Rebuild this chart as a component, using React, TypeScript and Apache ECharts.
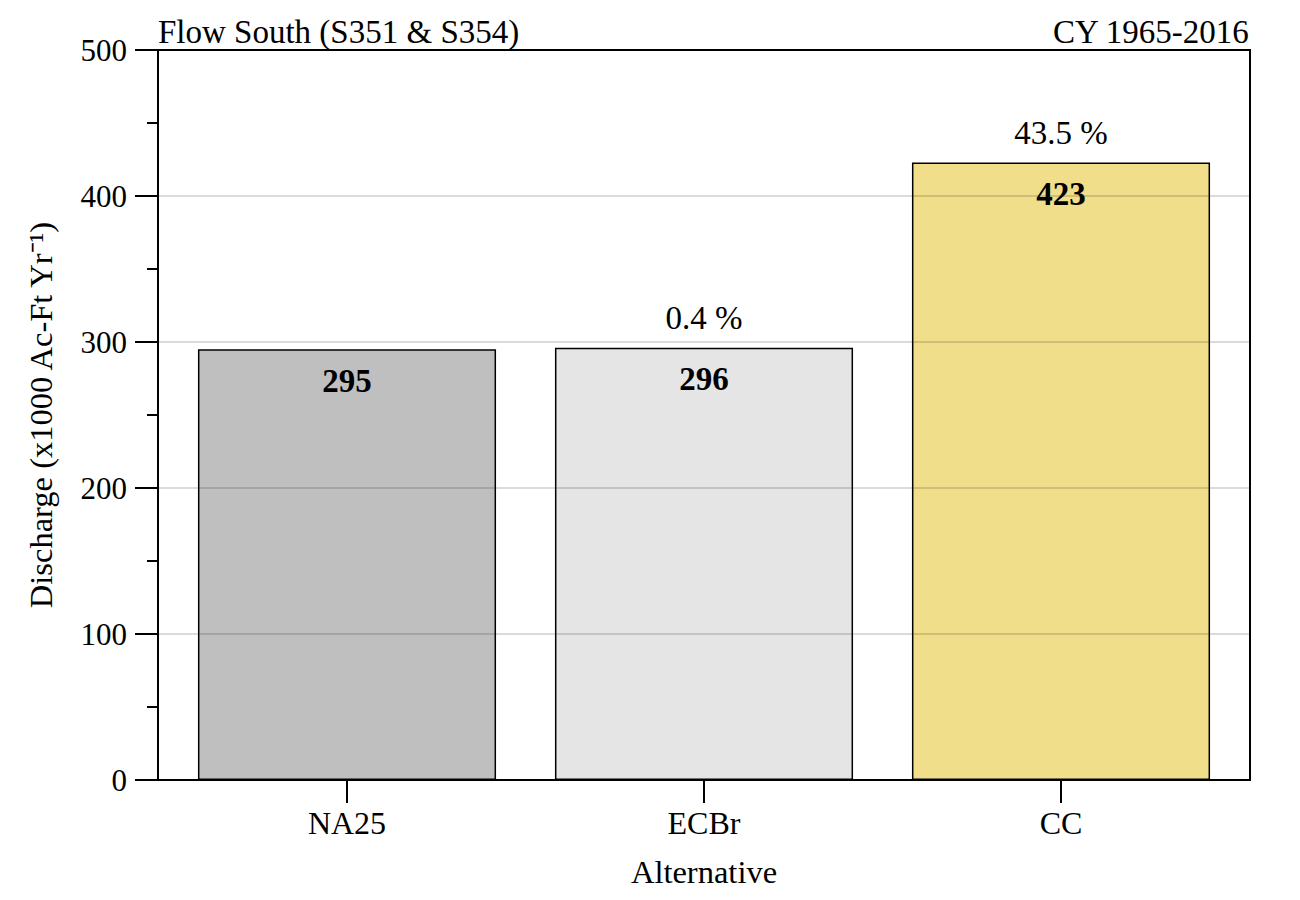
import React, { useEffect, useRef } from "react";
import * as echarts from "echarts";

const categories = ["NA25", "ECBr", "CC"];
const values = [295, 296, 423];
const pctLabels = ["", "0.4 %", "43.5 %"];
const barColors = ["#BFBFBF", "#E5E5E5", "#F0DE8A"];
const yTicks = [0, 100, 200, 300, 400, 500];

const FONT = "Liberation Serif";
const FS = 31;

export default function App() {
  const ref = useRef<HTMLDivElement>(null);
  useEffect(() => {
    if (!ref.current) return;
    const chart = echarts.init(ref.current, undefined, { renderer: "svg" });
    const yMin = yTicks[0];
    const yMax = yTicks[yTicks.length - 1];
    chart.setOption({
      animation: false,
      textStyle: { fontFamily: FONT, color: "#000" },
      title: [
        {
          text: "Flow South (S351 & S354)",
          left: 158,
          top: 15,
          padding: 0,
          textStyle: { fontFamily: FONT, fontSize: 33, fontWeight: "normal", color: "#000" },
        },
        {
          text: "CY 1965-2016",
          right: 50,
          top: 15,
          padding: 0,
          textStyle: { fontFamily: FONT, fontSize: 33, fontWeight: "normal", color: "#000" },
        },
      ],
      grid: [
        {
          left: 158,
          right: 50,
          top: 50,
          bottom: 120,
          show: true,
          borderColor: "#000",
          borderWidth: 2,
          backgroundColor: "transparent",
        },
        {
          left: 168.5,
          right: 60.5,
          top: 50,
          bottom: 120,
          show: false,
        },
      ],
      xAxis: [
        {
          gridIndex: 0,
          type: "value",
          min: 0,
          max: 1,
          name: "Alternative",
          nameLocation: "middle",
          nameGap: 75,
          nameTextStyle: { fontFamily: FONT, fontSize: 32.5, color: "#000" },
          axisLine: { show: true, lineStyle: { color: "#000", width: 2 } },
          axisTick: { show: false },
          axisLabel: { show: false },
          splitLine: { show: false },
        },
        {
          gridIndex: 1,
          type: "category",
          data: categories,
          axisLine: { show: false },
          axisTick: { show: true, alignWithLabel: true, length: 23, lineStyle: { color: "#000", width: 2 } },
          axisLabel: { fontFamily: FONT, fontSize: 32, color: "#000", margin: 27 },
        },
      ],
      yAxis: [
        {
          gridIndex: 0,
          type: "value",
          min: yMin,
          max: yMax,
          interval: 100,
          z: 5,
          name: "Discharge (x1000 Ac-Ft Yr\u207B\u00B9)",
          nameLocation: "middle",
          nameGap: 101,
          nameTextStyle: { fontFamily: FONT, fontSize: 32.5, color: "#000" },
          axisLine: { show: true, lineStyle: { color: "#000", width: 2 } },
          axisTick: { show: true, length: 23, lineStyle: { color: "#000", width: 2 } },
          minorTick: { show: true, splitNumber: 2, length: 11, lineStyle: { color: "#000", width: 2 } },
          axisLabel: { fontFamily: FONT, fontSize: FS, color: "#000", margin: 31 },
          splitLine: { show: true, lineStyle: { color: "rgba(0,0,0,0.14)", width: 2 } },
        },
        {
          gridIndex: 1,
          type: "value",
          min: yMin,
          max: yMax,
          interval: 100,
          show: false,
          splitLine: { show: false },
        },
      ],
      series: [
        {
          type: "bar",
          xAxisIndex: 1,
          yAxisIndex: 1,
          barCategoryGap: "16.5%",
          data: values.map((v, i) => ({
            value: v,
            itemStyle: { color: barColors[i], borderColor: "#000", borderWidth: 1.5 },
          })),
          label: {
            show: true,
            position: "insideTop",
            distance: 15,
            fontFamily: FONT,
            fontSize: 33,
            fontWeight: "bold",
            color: "#000",
          },
        },
        {
          type: "bar",
          xAxisIndex: 1,
          yAxisIndex: 1,
          barGap: "-100%",
          barCategoryGap: "16.5%",
          silent: true,
          data: values.map((v) => ({
            value: v,
            itemStyle: { color: "transparent", borderWidth: 0 },
          })),
          label: {
            show: true,
            position: "top",
            distance: 13,
            fontFamily: FONT,
            fontSize: 33,
            color: "#000",
            formatter: (p: any) => pctLabels[p.dataIndex],
          },
        },
      ],
    });
    return () => chart.dispose();
  }, []);
  return <div ref={ref} style={{ width: 1300, height: 900, margin: -8 }} />;
}
